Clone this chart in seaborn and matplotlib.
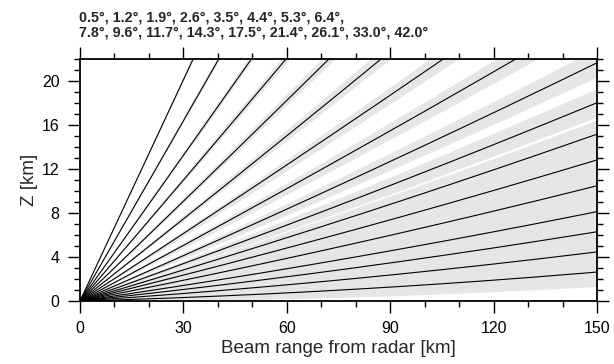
import numpy as np
import pandas as pd
import matplotlib
matplotlib.use("Agg")
import matplotlib.pyplot as plt
from matplotlib.ticker import MultipleLocator
import seaborn as sns

# Data: elevation angles (degrees) of the radar scan strategy
angles = [0.5, 1.2, 1.9, 2.6, 3.5, 4.4, 5.3, 6.4,
          7.8, 9.6, 11.7, 14.3, 17.5, 21.4, 26.1, 33.0, 42.0]
beam_width = 1.0          # degrees
earth_radius = 6371.0     # km
k_eff = 4.0 / 3.0         # effective earth radius factor
x_ticks = [0, 30, 60, 90, 120, 150]
y_ticks = [0, 4, 8, 12, 16, 20]

Re = k_eff * earth_radius
rng = np.linspace(0, 150, 751)


def beam_height(r, elev_deg):
    th = np.deg2rad(elev_deg)
    return np.sqrt(r ** 2 + Re ** 2 + 2 * r * Re * np.sin(th)) - Re


rows = []
for a in angles:
    h = beam_height(rng, a)
    rows.append(pd.DataFrame({"range": rng, "z": h, "elev": a}))
df = pd.concat(rows, ignore_index=True)

sns.set_style("ticks")
plt.rcParams["font.family"] = ["Liberation Sans", "DejaVu Sans"]

fig = plt.figure(figsize=(6.14, 3.64), dpi=100)
ax = fig.add_axes([80 / 614, 1 - 301 / 364, 517 / 614, 242 / 364])

# beam-width shading
for a in angles:
    lo = beam_height(rng, a - beam_width / 2)
    hi = beam_height(rng, a + beam_width / 2)
    ax.fill_between(rng, lo, hi, color="#e6e6e6", linewidth=0, zorder=1)

sns.lineplot(data=df, x="range", y="z", hue="elev", units="elev",
             estimator=None, palette=["black"] * len(angles),
             legend=False, linewidth=0.8, ax=ax, zorder=2)

ax.set_xlim(0, 150)
ax.set_ylim(0, 22)
ax.set_xticks(x_ticks)
ax.set_yticks(y_ticks)
ax.xaxis.set_minor_locator(MultipleLocator(10))
ax.yaxis.set_minor_locator(MultipleLocator(1))
ax.tick_params(which="both", direction="out", top=True, right=True,
               labeltop=False, labelright=False, color="black",
               width=1.0, labelsize=11.5, labelcolor="black")
ax.tick_params(which="major", length=8.6, pad=6)
ax.tick_params(which="minor", length=4.3)
for sp in ax.spines.values():
    sp.set_visible(True)
    sp.set_linewidth(1.3)
    sp.set_color("black")

ax.set_xlabel("Beam range from radar [km]", fontsize=13.5, labelpad=3)
ax.set_ylabel("Z [km]", fontsize=13.5, labelpad=3)

title = ", ".join(f"{a:.1f}°" for a in angles[:8]) + ",\n" + \
        ", ".join(f"{a:.1f}°" for a in angles[8:])
fig.text(79 / 614, 1 - 10 / 364, title, ha="left", va="top",
         fontsize=10.3, fontweight="bold", linespacing=1.1)

fig.savefig("out.png", dpi=100)
